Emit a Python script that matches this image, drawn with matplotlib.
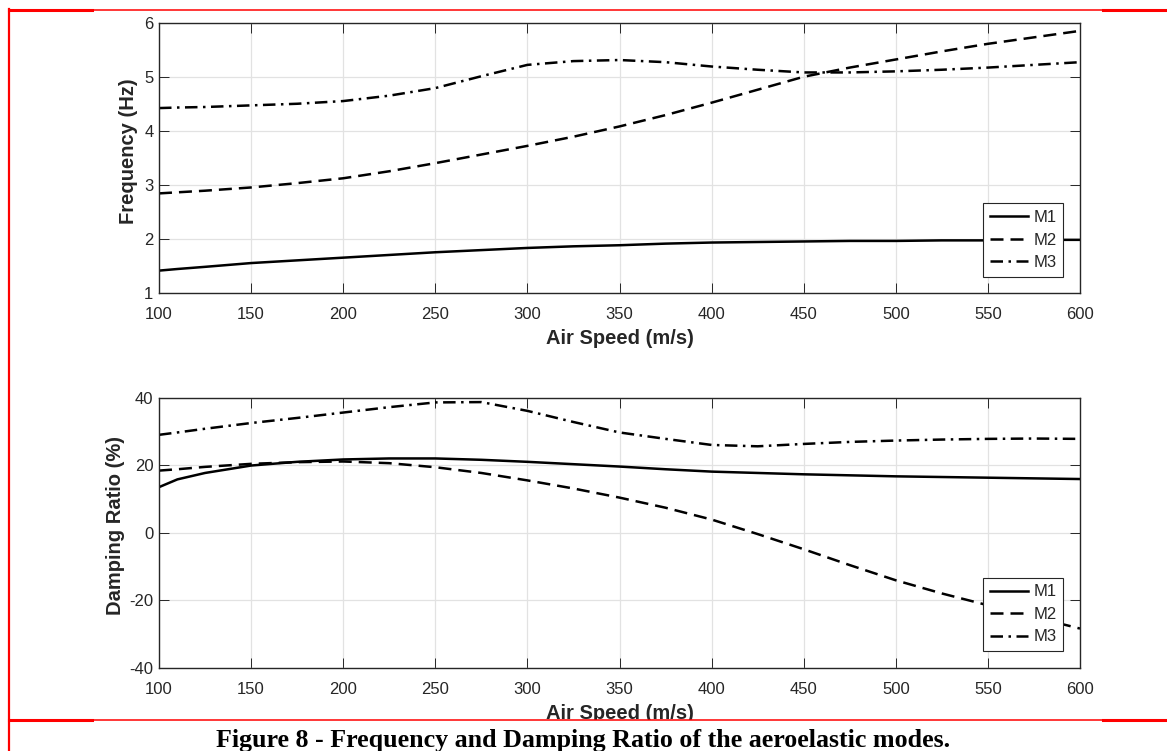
import matplotlib
matplotlib.use("Agg")
import matplotlib.pyplot as plt
from matplotlib.lines import Line2D
from matplotlib.patches import Rectangle

# ---- data ----
speed = [100, 110, 125, 150, 175, 200, 225, 250, 275, 300, 325, 350, 375,
         400, 425, 450, 475, 500, 525, 550, 575, 600]

freq_m1 = [1.42, 1.45, 1.49, 1.56, 1.61, 1.66, 1.71, 1.76, 1.80, 1.84, 1.87,
           1.89, 1.92, 1.94, 1.95, 1.96, 1.97, 1.97, 1.98, 1.98, 1.99, 1.99]
freq_m2 = [2.85, 2.87, 2.90, 2.96, 3.04, 3.13, 3.26, 3.41, 3.57, 3.73, 3.90,
           4.09, 4.30, 4.53, 4.77, 5.01, 5.18, 5.33, 5.48, 5.62, 5.74, 5.86]
freq_m3 = [4.43, 4.44, 4.45, 4.48, 4.51, 4.56, 4.66, 4.80, 5.02, 5.23, 5.30,
           5.32, 5.28, 5.20, 5.14, 5.09, 5.09, 5.11, 5.14, 5.18, 5.23, 5.28]

damp_m1 = [13.5, 15.8, 17.7, 19.9, 21.0, 21.7, 22.0, 22.0, 21.6, 21.0, 20.3,
           19.6, 18.8, 18.1, 17.7, 17.3, 17.0, 16.7, 16.5, 16.3, 16.1, 15.9]
damp_m2 = [18.4, 18.8, 19.5, 20.4, 20.9, 21.1, 20.6, 19.4, 17.7, 15.5, 13.1,
           10.4, 7.4, 3.9, -0.4, -4.9, -9.6, -14.1, -18.0, -21.5, -25.0, -28.4]
damp_m3 = [29.0, 29.7, 30.8, 32.5, 34.0, 35.6, 37.2, 38.6, 38.7, 36.1, 32.8,
           29.7, 27.8, 26.0, 25.6, 26.3, 26.9, 27.3, 27.6, 27.8, 27.9, 27.8]

labels = ["M1", "M2", "M3"]
xticks = [100, 150, 200, 250, 300, 350, 400, 450, 500, 550, 600]
freq_ticks = [1, 2, 3, 4, 5, 6]
damp_ticks = [-40, -20, 0, 20, 40]

caption = "Figure 8 - Frequency and Damping Ratio of the aeroelastic modes."

# ---- styling ----
W, H = 1167, 751
plt.rcParams['font.family'] = ['Liberation Sans', 'DejaVu Sans']
plt.rcParams['axes.unicode_minus'] = False
fig = plt.figure(figsize=(W / 100, H / 100), dpi=100)

dark = '#262626'
lw = 1.8
styles = [dict(ls='-'),
          dict(ls=(0, (5.2, 2.8))),
          dict(ls=(0, (5.0, 2.2, 1.0, 2.2)))]


def px_axes(left, top, right, bottom):
    return fig.add_axes([left / W, 1 - bottom / H, (right - left) / W, (bottom - top) / H])


def style_axes(ax, yticks, ylabel, ylim, ylab_x, xlab_y):
    ax.set_xlim(100, 600)
    ax.set_ylim(*ylim)
    ax.set_xticks(xticks)
    ax.set_yticks(yticks)
    ax.grid(True, color='#e2e2e2', lw=0.9)
    ax.set_axisbelow(True)
    for s in ax.spines.values():
        s.set_color(dark)
        s.set_linewidth(1.0)
    ax.tick_params(direction='in', length=7, width=0.7, color=dark,
                   labelcolor=dark, labelsize=12, top=True, right=True)
    ax.tick_params(axis='x', pad=10)
    ax.tick_params(axis='y', pad=4)
    ax.set_xlabel("Air Speed (m/s)", fontsize=14.5, fontweight='bold', color=dark)
    ax.set_ylabel(ylabel, fontsize=14.5, fontweight='bold', color=dark)
    ax.xaxis.label.set_va('center')
    ax.yaxis.label.set_va('center')
    ax.xaxis.set_label_coords(0.5, xlab_y)
    ax.yaxis.set_label_coords(ylab_x, 0.526)


def add_legend(ax):
    leg = ax.legend(loc='lower right', bbox_to_anchor=(0.982, 0.0615), borderaxespad=0,
                    fontsize=12, frameon=True, fancybox=False, framealpha=1,
                    edgecolor=dark, handlelength=2.3, handletextpad=0.33,
                    borderpad=0.4, labelspacing=0.45)
    leg.get_frame().set_linewidth(0.8)
    for t in leg.get_texts():
        t.set_color(dark)


ax1 = px_axes(159, 23.3, 1080, 293.3)
for ys, st, lab in zip([freq_m1, freq_m2, freq_m3], styles, labels):
    ax1.plot(speed, ys, color='black', lw=lw, label=lab, **st)
style_axes(ax1, freq_ticks, "Frequency (Hz)", (1, 6), -0.0336, -0.1656)
add_legend(ax1)

ax2 = px_axes(159, 397.7, 1080, 667.7)
for ys, st, lab in zip([damp_m1, damp_m2, damp_m3], styles, labels):
    ax2.plot(speed, ys, color='black', lw=lw, label=lab, **st)
style_axes(ax2, damp_ticks, "Damping Ratio (%)", (-40, 40), -0.0467, -0.168)
add_legend(ax2)

# caption area (covers the lower part of the bottom x label)
fig.patches.append(Rectangle((0, 0), 1, (H - 720) / H, transform=fig.transFigure,
                             facecolor='white', edgecolor='none', zorder=10))


def hline(y, x0, x1, w):
    fig.lines.append(Line2D([x0 / W, x1 / W], [1 - y / H, 1 - y / H],
                            transform=fig.transFigure, color='red', lw=w, zorder=11))


hline(10, 9, 92, 2.2)
hline(10, 92, 1103, 1.1)
hline(10, 1103, W, 2.2)
hline(720, 9, 92, 2.2)
hline(720, 92, 1103, 1.1)
hline(720, 1103, W, 2.2)
fig.lines.append(Line2D([9 / W, 9 / W], [0, 1 - 9 / H], transform=fig.transFigure,
                        color='red', lw=1.6, zorder=11))

fig.text(583 / W, 1 - 747 / H, caption, ha='center', va='baseline',
         fontsize=18.7, fontweight='bold', family=['Liberation Serif', 'DejaVu Serif'],
         color='black', zorder=12)

fig.savefig("out.png", dpi=100)
